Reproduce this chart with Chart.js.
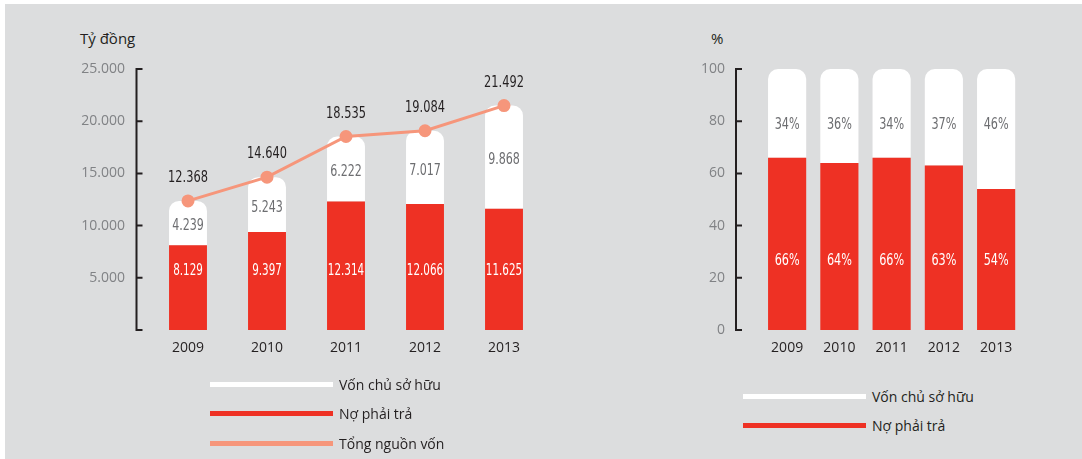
<!DOCTYPE html>
<html lang="vi">
<head>
<meta charset="utf-8" />
<title>Cơ cấu nguồn vốn</title>
<script src="https://cdn.jsdelivr.net/npm/chart.js"></script>
<style>
    html, body { margin: 0; padding: 0; background: #fff; }
    #wrap { position: relative; width: 1082px; height: 459px; overflow: hidden; }
    #bg { position: absolute; left: 5px; top: 4px; right: 0; bottom: 0; background: #dcddde; }
    canvas { position: absolute; top: 0; }
    #left { left: 0; }
    #right { left: 600px; }
    .title { position: absolute; font-family: "Open Sans", sans-serif; font-size: 15px; color: #231f20; line-height: 18px; }
    .leg { position: absolute; font-family: "Open Sans", sans-serif; font-size: 14px; color: #231f20; line-height: 18px; }
    .leg span { position: absolute; left: 0; width: 123px; height: 5px; }
    .leg b { position: absolute; white-space: nowrap; font-weight: normal; }
</style>
</head>
<body>
<div id="wrap">
    <div id="bg"></div>
    <div class="title" style="left:80px; top:29px;">Tỷ đồng</div>
    <div class="title" style="left:711px; top:29px;">%</div>
    <canvas id="left" width="600" height="380"></canvas>
    <canvas id="right" width="482" height="380"></canvas>
    <div id="legLeft"></div>
    <div id="legRight"></div>
</div>
<script>
    // so lieu
    const years = ['2009', '2010', '2011', '2012', '2013'];
    const noPhaiTra = [8129, 9397, 12314, 12066, 11625];     // Nợ phải trả (tỷ đồng)
    const vonChuSoHuu = [4239, 5243, 6222, 7017, 9868];       // Vốn chủ sở hữu (tỷ đồng)
    const tongNguonVon = [12368, 14640, 18535, 19084, 21492]; // Tổng nguồn vốn
    const noPct = [66, 64, 66, 63, 54];
    const vonPct = [34, 36, 34, 37, 46];
    const leftTicks = [0, 5000, 10000, 15000, 20000, 25000];
    const rightTicks = [0, 20, 40, 60, 80, 100];

    const RED = '#ee3124';
    const WHITE = '#ffffff';
    const SALMON = '#f6967b';
    const DARK = '#231f20';
    const GREY = '#808285';
    const NARROW = '"DejaVu Sans Condensed", "Liberation Sans Narrow", sans-serif';

    function fmt(v) {
        return v.toString().replace(/\B(?=(\d{3})+(?!\d))/g, '.');
    }

    // truc doc kieu ngoac, vach chia huong vao trong
    function bracketAxis(offset, ticks) {
        return {
            id: 'bracketAxis',
            afterDraw(chart) {
                const ctx = chart.ctx;
                const y = chart.scales.y;
                const x0 = chart.chartArea.left - offset;
                ctx.save();
                ctx.strokeStyle = DARK;
                ctx.lineWidth = 2;
                ctx.beginPath();
                ctx.moveTo(x0, y.getPixelForValue(y.max));
                ctx.lineTo(x0, y.getPixelForValue(0));
                ticks.forEach(t => {
                    const py = y.getPixelForValue(t);
                    ctx.moveTo(x0 - 1, py);
                    ctx.lineTo(x0 + 6, py);
                });
                ctx.stroke();
                ctx.restore();
            }
        };
    }

    // nhan so lieu tren cot va duong, chu hep lai theo chieu ngang
    function valueLabels(sets) {
        return {
            id: 'valueLabels',
            afterDatasetsDraw(chart) {
                const ctx = chart.ctx;
                const y = chart.scales.y;
                chart.data.datasets.forEach((ds, i) => {
                    const cfg = sets[i];
                    if (!cfg) return;
                    const meta = chart.getDatasetMeta(i);
                    meta.data.forEach((el, j) => {
                        let py;
                        if (ds.type === 'line') py = el.y - 23;
                        else if (cfg.at != null) py = y.getPixelForValue(cfg.at);
                        else py = (el.y + el.base) / 2 + (cfg.shift || 0);
                        ctx.save();
                        ctx.translate(el.x, py);
                        ctx.scale(cfg.sx, 1);
                        ctx.textAlign = 'center';
                        ctx.textBaseline = 'middle';
                        ctx.fillStyle = cfg.color;
                        ctx.font = cfg.font;
                        ctx.fillText(cfg.text(ds.data[j]), 0, 0);
                        ctx.restore();
                    });
                });
            }
        };
    }

    function baseOptions(yMax, yWidth, tickPad, padRight, tickCb) {
        return {
            responsive: false,
            animation: false,
            layout: { padding: { top: 69, right: padRight, bottom: 0, left: 0 } },
            plugins: { legend: { display: false }, tooltip: { enabled: false } },
            scales: {
                x: {
                    stacked: true,
                    grid: { display: false, drawTicks: false },
                    border: { display: false },
                    ticks: { color: DARK, font: { family: 'Open Sans', size: 14 }, padding: 10, maxRotation: 0 },
                    afterFit: s => { s.height = 50; }
                },
                y: {
                    stacked: true,
                    min: 0,
                    max: yMax,
                    grid: { display: false, drawTicks: false },
                    border: { display: false },
                    ticks: { stepSize: yMax / 5, color: GREY, font: { family: 'Open Sans', size: 14 }, padding: tickPad, callback: tickCb },
                    afterFit: s => { s.width = yWidth; }
                }
            }
        };
    }

    const topRound = { topLeft: 10, topRight: 10, bottomLeft: 0, bottomRight: 0 };

    new Chart(document.getElementById('left'), {
        type: 'bar',
        data: {
            labels: years,
            datasets: [
                { label: 'Nợ phải trả', data: noPhaiTra, backgroundColor: RED, categoryPercentage: 1, barPercentage: 0.48, order: 2 },
                { label: 'Vốn chủ sở hữu', data: vonChuSoHuu, backgroundColor: WHITE, borderRadius: topRound, borderSkipped: 'start', categoryPercentage: 1, barPercentage: 0.48, order: 2 },
                { type: 'line', label: 'Tổng nguồn vốn', data: tongNguonVon, borderColor: SALMON, backgroundColor: SALMON, borderWidth: 3, pointRadius: 5, pointHoverRadius: 5, order: 1 }
            ]
        },
        options: baseOptions(25000, 148.5, 23.5, 56.5, v => v === 0 ? '' : fmt(v)),
        plugins: [
            bracketAxis(12, leftTicks),
            valueLabels([
                { color: '#ffffff', font: '16px ' + NARROW, text: fmt, at: 5650, sx: 0.72 },
                { color: '#6d6e71', font: '16px ' + NARROW, text: fmt, shift: 3, sx: 0.77 },
                { color: DARK, font: '16px ' + NARROW, text: fmt, sx: 0.79 }
            ])
        ]
    });

    new Chart(document.getElementById('right'), {
        type: 'bar',
        data: {
            labels: years,
            datasets: [
                { label: 'Nợ phải trả', data: noPct, backgroundColor: RED, categoryPercentage: 1, barPercentage: 0.73 },
                { label: 'Vốn chủ sở hữu', data: vonPct, backgroundColor: WHITE, borderRadius: topRound, borderSkipped: 'start', categoryPercentage: 1, barPercentage: 0.73 }
            ]
        },
        options: baseOptions(100, 161, 36, 59.75, v => v),
        plugins: [
            bracketAxis(25, rightTicks),
            valueLabels([
                { color: '#ffffff', font: '16px ' + NARROW, text: v => v + '%', at: 26.5, sx: 0.78 },
                { color: '#6d6e71', font: '16px ' + NARROW, text: v => v + '%', at: 78.5, sx: 0.78 }
            ])
        ]
    });

    // chu giai
    function legend(id, left, items) {
        const box = document.getElementById(id);
        items.forEach(it => {
            const d = document.createElement('div');
            d.className = 'leg';
            d.style.left = left + 'px';
            d.style.top = (it.y - 9) + 'px';
            d.innerHTML = '<span style="top:6px;background:' + it.color + '"></span><b style="left:129px">' + it.text + '</b>';
            box.appendChild(d);
        });
    }
    legend('legLeft', 210, [
        { text: 'Vốn chủ sở hữu', color: WHITE, y: 385 },
        { text: 'Nợ phải trả', color: RED, y: 414 },
        { text: 'Tổng nguồn vốn', color: SALMON, y: 444 }
    ]);
    legend('legRight', 743, [
        { text: 'Vốn chủ sở hữu', color: WHITE, y: 397 },
        { text: 'Nợ phải trả', color: RED, y: 426 }
    ]);
</script>
</body>
</html>
